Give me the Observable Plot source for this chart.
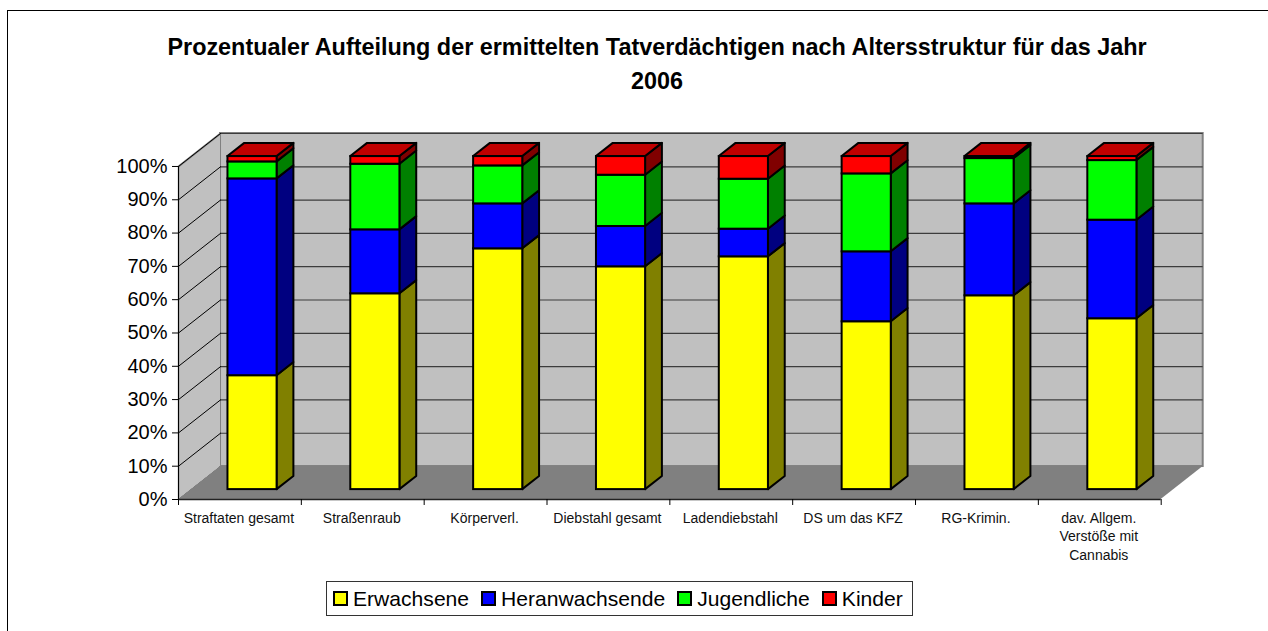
<!DOCTYPE html>
<html lang="de">
<head>
<meta charset="utf-8">
<script src="https://cdn.jsdelivr.net/npm/d3@7"></script>
<script src="https://cdn.jsdelivr.net/npm/@observablehq/plot@0.6"></script>
<style>
  html, body { margin: 0; padding: 0; background: #fff; overflow: hidden; }
  #page { position: relative; width: 1268px; height: 631px; font-family: "Liberation Sans", Arial, sans-serif; color: #000; }
  #frame { position: absolute; left: 7px; top: 10px; width: 1300px; height: 700px; border-left: 1px solid #000; border-top: 1px solid #000; box-sizing: border-box; }
  #title { position: absolute; left: 100px; top: 30px; width: 1114px; text-align: center; font-weight: bold; font-size: 23.4px; line-height: 34px; margin: 0; }
  #chart { position: absolute; left: 0; top: 100px; }
  #legend { position: absolute; left: 326px; top: 581px; width: 587px; height: 35px; box-sizing: border-box; border: 1px solid #333; display: flex; align-items: center; gap: 12px; padding-left: 6px; font-size: 21.1px; }
  #legend .item { display: flex; align-items: center; gap: 5px; white-space: nowrap; }
  #legend .sw { width: 15px; height: 15px; box-sizing: border-box; border: 2px solid #000; display: inline-block; }
  svg text { font-family: "Liberation Sans", Arial, sans-serif; }
</style>
</head>
<body>
<div id="page">
  <div id="frame"></div>
  <h1 id="title"></h1>
  <div id="chart"></div>
  <div id="legend"></div>
</div>
<script>
const titleLines = ["Prozentualer Aufteilung der ermittelten Tatverdächtigen nach Altersstruktur für das Jahr", "2006"];
const categories = ["Straftaten gesamt", "Straßenraub", "Körperverl.", "Diebstahl gesamt", "Ladendiebstahl", "DS um das KFZ", "RG-Krimin.", "dav. Allgem.\nVerstöße mit\nCannabis"];
const seriesNames = ["Erwachsene", "Heranwachsende", "Jugendliche", "Kinder"];
const erwachsene = [34.2, 58.8, 72.3, 66.9, 69.9, 50.4, 58.2, 51.3];
const heranwachsende = [59.1, 19.2, 13.5, 12.1, 8.3, 21.0, 27.6, 29.6];
const jugendliche = [5.1, 19.7, 11.4, 15.4, 15.0, 23.4, 13.6, 17.9];
const kinder = [1.6, 2.3, 2.8, 5.6, 6.8, 5.2, 0.6, 1.2];
const percentTicks = [0, 10, 20, 30, 40, 50, 60, 70, 80, 90, 100];

const frontColors = ["#FFFF00", "#0000FF", "#00FF00", "#FF0000"];
const sideColors = ["#808000", "#000080", "#008000", "#800000"];
const topColor = "#C00000";
const wallColor = "#C0C0C0";
const floorColor = "#808080";

// oblique depth of the chart box, in data units of the x and y scales
const depthX = 0.342, depthY = 9.9;
const barZ0 = 0.3, barZ1 = 0.7, barPad = 0.3, barW = 0.4;
const tickDrop = -1.8;
const allSeries = [erwachsene, heranwachsende, jugendliche, kinder];

const front = [], side = [], tops = [];
categories.forEach((c, i) => {
  let base = 0;
  const xl = i + barPad;
  const xr = xl + barW;
  allSeries.forEach((s, k) => {
    const y0 = base, y1 = base + s[i];
    base = y1;
    front.push({x1: xl + barZ0 * depthX, x2: xr + barZ0 * depthX, y1: y0 + barZ0 * depthY, y2: y1 + barZ0 * depthY, fill: frontColors[k]});
    for (const z of [barZ0, barZ1]) {
      side.push({id: `${i}-${k}`, x: xr + z * depthX, y1: y0 + z * depthY, y2: y1 + z * depthY, fill: sideColors[k]});
    }
  });
  for (const z of [barZ0, barZ1]) {
    tops.push({id: i, y: base + z * depthY, x1: xl + z * depthX, x2: xr + z * depthX});
  }
});

const n = categories.length;
const leftWall = [{x: 0, y1: 0, y2: 100}, {x: depthX, y1: depthY, y2: 100 + depthY}];
const floor = [{y: 0, x1: 0, x2: n}, {y: depthY, x1: depthX, x2: n + depthX}];
const sideGrid = percentTicks.flatMap(v => [{v, x: 0, y: v}, {v, x: depthX, y: v + depthY}]);
const catLabels = categories.map((c, i) => ({c, x: i + 0.5}));
const catTicks = d3.range(0, n + 1);

const chart = Plot.plot({
  width: 1268,
  height: 470,
  marginLeft: 178,
  marginRight: 65.3,
  marginTop: 33,
  marginBottom: 71,
  x: {type: "linear", domain: [0, n + depthX], axis: null},
  y: {type: "linear", domain: [0, 100 + depthY], axis: null},
  color: {type: "identity"},
  marks: [
    Plot.rect([{}], {x1: () => depthX, x2: () => n + depthX, y1: () => depthY, y2: () => 100 + depthY, fill: wallColor, stroke: floorColor, strokeWidth: 2}),
    Plot.areaY(leftWall, {x: "x", y1: "y1", y2: "y2", fill: wallColor}),
    Plot.line(leftWall, {x: "x", y: "y2", stroke: floorColor, strokeWidth: 2}),
    Plot.ruleY(percentTicks.slice(1), {x1: depthX, x2: n + depthX, y: v => v + depthY, stroke: "#3c3c3c", strokeWidth: 1.2}),
    Plot.line(sideGrid, {x: "x", y: "y", z: "v", stroke: "#000", strokeWidth: 1}),
    Plot.areaX(floor, {y: "y", x1: "x1", x2: "x2", fill: floorColor}),
    Plot.areaY(side, {x: "x", y1: "y1", y2: "y2", z: "id", fill: "fill", stroke: "#000", strokeWidth: 2}),
    Plot.areaX(tops, {y: "y", x1: "x1", x2: "x2", z: "id", fill: topColor, stroke: "#000", strokeWidth: 2}),
    Plot.rect(front, {x1: "x1", x2: "x2", y1: "y1", y2: "y2", fill: "fill", stroke: "#000", strokeWidth: 2}),
    Plot.ruleX([0], {y1: 0, y2: 100, stroke: "#000", strokeWidth: 1.2}),
    Plot.ruleY([0], {x1: 0, x2: n, stroke: "#222", strokeWidth: 1.5}),
    Plot.axisY({ticks: percentTicks, tickFormat: d => d + "%", anchor: "left", label: null, tickSize: 6, tickPadding: 5, fontSize: 20, stroke: "#000", color: "#000"}),
    Plot.ruleX(catTicks, {x: d => d, y1: 0, y2: tickDrop, stroke: "#000", strokeWidth: 1}),
    Plot.text(catLabels, {x: "x", y: () => 0, text: "c", dx: -1, dy: 10, lineAnchor: "top", lineHeight: 1.33, fontSize: 14, fill: "#111", textAnchor: "middle"})
  ]
});
document.getElementById("chart").appendChild(chart);

const t = document.getElementById("title");
t.innerHTML = titleLines.join("<br>");
const lg = document.getElementById("legend");
seriesNames.forEach((name, k) => {
  const item = document.createElement("span");
  item.className = "item";
  const sw = document.createElement("span");
  sw.className = "sw";
  sw.style.background = frontColors[k];
  const tx = document.createElement("span");
  tx.textContent = name;
  item.append(sw, tx);
  lg.append(item);
});
</script>
</body>
</html>
